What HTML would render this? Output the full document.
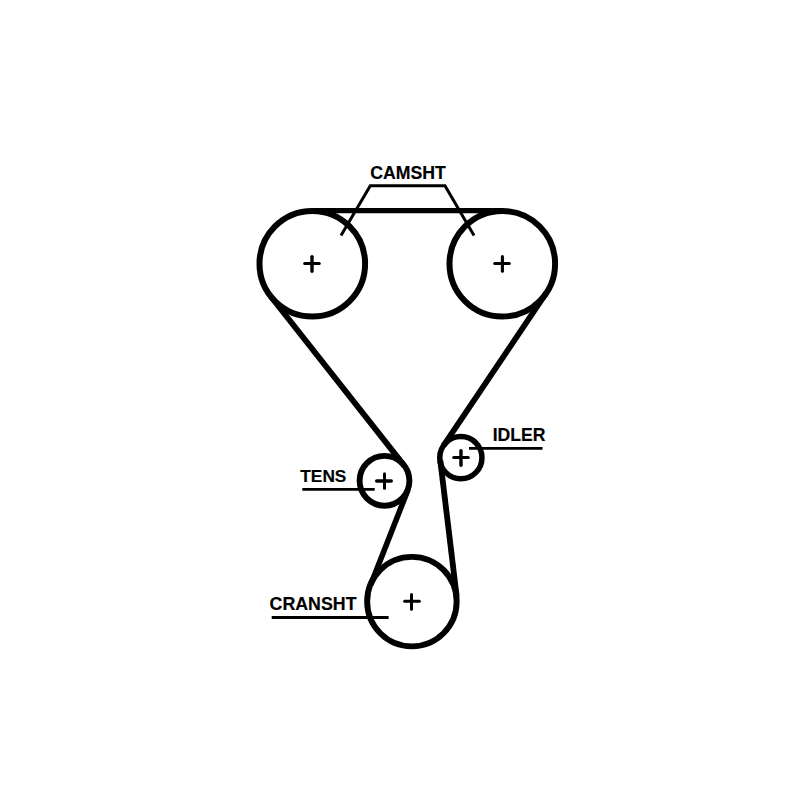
<!DOCTYPE html>
<html><head><meta charset="utf-8">
<style>
html,body{margin:0;padding:0;background:#fff;width:800px;height:800px;overflow:hidden}
svg{display:block}
text{font-family:"Liberation Sans",sans-serif;font-weight:bold;font-size:18px;fill:#000;stroke:#000;stroke-width:0.15px}
</style></head>
<body>
<svg width="800" height="800" viewBox="0 0 800 800">
<rect width="800" height="800" fill="#fff"/>
<g fill="none" stroke="#000">
  <!-- pulleys -->
  <circle cx="312.3" cy="263.75" r="52.8" stroke-width="6"/>
  <circle cx="502.3" cy="263.75" r="52.8" stroke-width="6"/>
  <circle cx="384.5" cy="480.8" r="24.9" stroke-width="5.9"/>
  <circle cx="460.85" cy="457.65" r="21.1" stroke-width="5.5"/>
  <circle cx="411.9" cy="601.6" r="44.75" stroke-width="5.9"/>
  <!-- belt -->
  <line x1="312" y1="210.6" x2="502" y2="210.6" stroke-width="5.1"/>
  <line x1="270.84" y1="296.44" x2="404.05" y2="465.38" stroke-width="5.8"/>
  <line x1="546.1" y1="293.24" x2="443.35" y2="445.87" stroke-width="5.8"/>
  <line x1="407.9" y1="489.9" x2="370.5" y2="585.25" stroke-width="5.6"/>
  <line x1="440.25" y1="460.18" x2="456.65" y2="596.24" stroke-width="5.8"/>
  <!-- plus signs -->
  <g stroke-linecap="round">
    <path d="M304.67 263.50H319.27" stroke-width="3.0"/>
    <path d="M312.00 256.60V271.20" stroke-width="3.4"/>
    <path d="M494.70 263.60H509.30" stroke-width="3.0"/>
    <path d="M502.40 256.66V271.26" stroke-width="3.1"/>
    <path d="M376.67 481.00H391.27" stroke-width="3.4"/>
    <path d="M384.50 473.70V488.30" stroke-width="3.0"/>
    <path d="M453.70 457.40H468.30" stroke-width="3.0"/>
    <path d="M460.97 450.60V465.20" stroke-width="3.4"/>
    <path d="M404.70 601.30H419.30" stroke-width="3.0"/>
    <path d="M411.50 594.60V609.20" stroke-width="3.0"/>
  </g>
  <!-- leaders -->
  <g stroke-width="2.8">
    <path d="M341 235.5L370.3 185.7H445L474 235.5" stroke-width="3"/>
    <path d="M302.3 489.4H374.7"/>
    <path d="M469 448.4H542.5"/>
    <path d="M271.7 617.5H388.6"/>
  </g>
</g>
<text x="370.2" y="178.75" style="font-size:17.7px">CAMSHT</text>
<text x="300.3" y="481.8" style="font-size:17.3px">TENS</text>
<text x="492.7" y="440.6" style="font-size:17.6px">IDLER</text>
<text x="269.6" y="609.7" style="font-size:17.8px">CRANSHT</text>
</svg>
</body></html>
